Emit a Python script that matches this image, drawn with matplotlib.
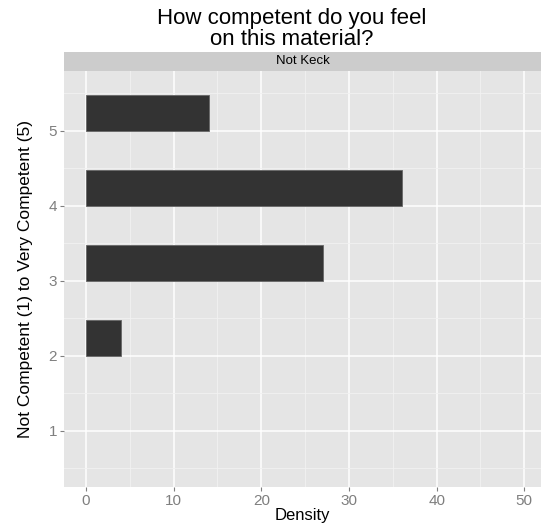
import matplotlib.pyplot as plt

plt.rcParams['font.family'] = ['Liberation Sans', 'DejaVu Sans']

# data
levels = [2, 3, 4, 5]
density = [4, 27, 36, 14]
x_ticks = [0, 10, 20, 30, 40, 50]
y_ticks = [1, 2, 3, 4, 5]
title = "How competent do you feel\non this material?"
panel_label = "Not Keck"
x_label = "Density"
y_label = "Not Competent (1) to Very Competent (5)"

W, H = 541, 525
fig = plt.figure(figsize=(W / 100, H / 100), dpi=100)

# panel in pixel coords
left, right, top, bottom = 64, 541, 71, 487
ax = fig.add_axes([left / W, 1 - bottom / H, (right - left) / W, (bottom - top) / H])
ax.set_facecolor('#E5E5E5')

ax.barh(levels, density, height=0.48, align='edge', color='#333333',
        edgecolor='#666666', linewidth=0.6, zorder=3)

ax.set_xlim(-2.5, 51.9)
ax.set_ylim(0.25, 5.8)
ax.set_xticks(x_ticks)
ax.set_yticks(y_ticks)
ax.set_xticks([5, 15, 25, 35, 45], minor=True)
ax.set_yticks([0.5, 1.5, 2.5, 3.5, 4.5, 5.5], minor=True)
ax.grid(which='major', color='white', linewidth=1.1, zorder=1)
ax.grid(which='minor', color='#F2F2F2', linewidth=0.6, zorder=1)
ax.set_axisbelow(True)
for s in ax.spines.values():
    s.set_visible(False)
ax.tick_params(which='major', colors='#7F7F7F', labelcolor='#7F7F7F',
               labelsize=11, length=3, width=0.8, pad=2)
ax.tick_params(which='minor', length=0)

ax.set_xlabel(x_label, fontsize=12, labelpad=0)
ax.set_ylabel(y_label, fontsize=12.5, labelpad=11)

# strip
strip = fig.add_axes([left / W, 1 - top / H, (right - left) / W, 19 / H])
strip.set_facecolor('#CCCCCC')
strip.set_xticks([])
strip.set_yticks([])
for s in strip.spines.values():
    s.set_visible(False)
strip.text(0.5, 0.5, panel_label, ha='center', va='center', fontsize=9.5,
           transform=strip.transAxes)

fig.text(292 / W, 1 - 29 / H, title, ha='center', va='center', fontsize=16,
         linespacing=1.05)

fig.savefig('out.png', dpi=100)
